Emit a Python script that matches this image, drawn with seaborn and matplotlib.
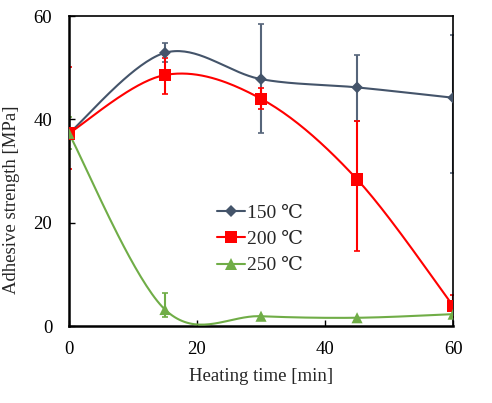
import numpy as np
import pandas as pd
import matplotlib
matplotlib.use("Agg")
import matplotlib.pyplot as plt
import seaborn as sns
from matplotlib.lines import Line2D

# ---- data ----
time_min = [0, 15, 30, 45, 60]
series_names = ["150 ℃", "200 ℃", "250 ℃"]
s150 = [37.3, 52.9, 47.8, 46.2, 44.2]
s150_lo = [0.0, 1.8, 10.5, 6.5, 14.5]
s150_hi = [0.0, 1.8, 10.6, 6.3, 12.2]
s200 = [37.3, 48.6, 44.0, 28.4, 3.9]
s200_lo = [6.9, 3.7, 1.9, 13.8, 2.1]
s200_hi = [12.9, 3.3, 2.0, 11.3, 2.1]
s250 = [37.3, 3.2, 1.9, 1.6, 2.3]
s250_lo = [3.0, 1.4, 0.0, 0.0, 0.0]
s250_hi = [3.1, 3.1, 0.0, 0.0, 0.0]

colors = ["#44546A", "#FF0000", "#70AD47"]
markers = ["D", "s", "^"]
msizes = [6, 9, 8]


def smooth(x, y, n=40):
    """Excel-like Catmull-Rom smoothed line through the data points."""
    x = np.asarray(x, float)
    y = np.asarray(y, float)
    P = np.column_stack([x, y])
    P = np.vstack([P[0], P, P[-1]])
    out = []
    t = np.linspace(0, 1, n)[:, None]
    for i in range(1, len(P) - 2):
        p0, p1, p2, p3 = P[i - 1], P[i], P[i + 1], P[i + 2]
        c1 = p1 + (p2 - p0) / 6.0
        c2 = p2 - (p3 - p1) / 6.0
        seg = ((1 - t) ** 3) * p1 + 3 * ((1 - t) ** 2) * t * c1 + 3 * (1 - t) * t ** 2 * c2 + t ** 3 * p2
        out.append(seg if i == 1 else seg[1:])
    s = np.vstack(out)
    return s[:, 0], s[:, 1]


sns.set_theme(style="ticks")
plt.rcParams["font.family"] = ["Liberation Serif", "DejaVu Serif"]
plt.rcParams["xtick.direction"] = "in"
plt.rcParams["ytick.direction"] = "in"

fig = plt.figure(figsize=(4.92, 4.03), dpi=100)
ax = fig.add_axes([0.140, 0.191, 0.781, 0.769])

all_y = [s150, s200, s250]
all_lo = [s150_lo, s200_lo, s250_lo]
all_hi = [s150_hi, s200_hi, s250_hi]

curves = []
points = []
for name, ys in zip(series_names, all_y):
    cx, cy = smooth(time_min, ys)
    curves.append(pd.DataFrame({"x": cx, "y": cy, "series": name, "order": np.arange(len(cx))}))
    points.append(pd.DataFrame({"x": time_min, "y": ys, "series": name}))
curves = pd.concat(curves, ignore_index=True)
points = pd.concat(points, ignore_index=True)

palette = dict(zip(series_names, colors))
ecolors = ["#56657A", "#FF0000", "#70AD47"]

# error bars first (behind)
for name, ys, lo, hi, c in zip(series_names, all_y, all_lo, all_hi, ecolors):
    lo_a = np.array(lo)
    hi_a = np.array(hi)
    mask = (lo_a + hi_a) > 0
    ax.errorbar(np.array(time_min)[mask], np.array(ys)[mask],
                yerr=[lo_a[mask], hi_a[mask]], fmt="none", ecolor=c,
                elinewidth=1.5, capsize=2.5, capthick=1.2, zorder=2)

sns.lineplot(data=curves, x="x", y="y", hue="series", palette=palette,
             units="series", estimator=None, sort=False, linewidth=1.5,
             legend=False, ax=ax, zorder=3)

for name, m, ms, c in zip(series_names, markers, msizes, colors):
    sub = points[points["series"] == name]
    sns.scatterplot(data=sub, x="x", y="y", color=c, marker=m, s=ms ** 2,
                    edgecolor="none", legend=False, ax=ax, zorder=4)

ax.set_xlim(0, 60)
ax.set_ylim(0, 60)
ax.set_xticks([0, 20, 40, 60])
ax.set_yticks([0, 20, 40, 60])
ax.tick_params(axis="x", labelsize=13.5, length=4, width=1, colors="black", pad=11)
ax.tick_params(axis="y", labelsize=13.5, length=4, width=1, colors="black", pad=12)
ax.set_xlabel("Heating time [min]", fontsize=13.5)
ax.set_ylabel("Adhesive strength [MPa]", fontsize=13.5)
ax.xaxis.set_label_coords(0.5, -0.135)
ax.yaxis.set_label_coords(-0.128, 0.406)
for side in ["left", "bottom"]:
    ax.spines[side].set_linewidth(1.8)
for side in ["top", "right"]:
    ax.spines[side].set_linewidth(1.2)
for sp in ax.spines.values():
    sp.set_color("black")
ax.grid(False)

handles = [Line2D([0], [0], color=c, marker=m, markersize=ms, markeredgewidth=0, lw=1.5)
           for c, m, ms in zip(colors, markers, msizes)]
leg = ax.legend(handles, series_names, loc="upper left", bbox_to_anchor=(0.36, 0.425),
                frameon=False, fontsize=14, handlelength=1.45, handletextpad=0.1,
                labelspacing=0.45, borderpad=0)

fig.savefig("out.png", dpi=100)
